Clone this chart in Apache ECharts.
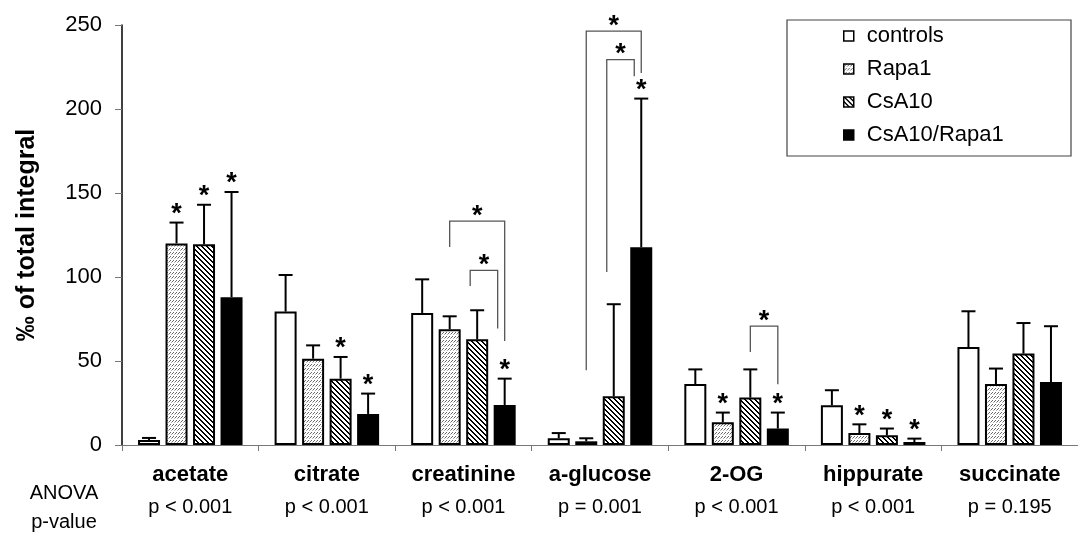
<!DOCTYPE html>
<html>
<head>
<meta charset="utf-8">
<script src="https://cdn.jsdelivr.net/npm/echarts@6/dist/echarts.min.js"></script>
<style>
html,body{margin:0;padding:0;background:#fff;}
#chart{width:1078px;height:540px;}
</style>
</head>
<body>
<div id="chart"></div>
<script>
// ---- data ----
const categories = ['acetate', 'citrate', 'creatinine', 'a-glucose', '2-OG', 'hippurate', 'succinate'];
const pValues = ['p < 0.001', 'p < 0.001', 'p < 0.001', 'p = 0.001', 'p < 0.001', 'p < 0.001', 'p = 0.195'];
const groups = ['controls', 'Rapa1', 'CsA10', 'CsA10/Rapa1'];

const controlsMean = [3, 79.4, 78.6, 4, 36.3, 23.6, 58.3];
const controlsErr  = [1.2, 21.8, 20, 3.1, 8.7, 9, 21.3];
const rapaMean     = [120, 51.4, 68.9, 2.2, 13.5, 7.1, 36.3];
const rapaErr      = [12.4, 7.9, 7.7, 1.8, 5.8, 5.2, 9.2];
const csaMean      = [119.5, 39.5, 62.9, 29, 28.2, 5.8, 54.4];
const csaErr       = [23.5, 12.9, 17.3, 54.8, 16.8, 4, 18.2];
const comboMean    = [88, 18.5, 23.8, 117.7, 9.8, 1.8, 37.5];
const comboErr     = [62.6, 12.1, 15.7, 88.5, 9.5, 2, 33.2];

// significance vs controls (1 = asterisk)
const controlsSig = [0, 0, 0, 0, 0, 0, 0];
const rapaSig     = [1, 0, 0, 0, 1, 1, 0];
const csaSig      = [1, 1, 0, 0, 0, 1, 0];
const comboSig    = [1, 1, 1, 1, 1, 1, 0];

// brackets: [category, fromGroup, toGroup, leftLegBottom, top, rightLegBottom, nestLevel]
const brackets = [
  [2, 1, 3, 117.9, 133.3, 61.9, 0],
  [2, 2, 3, 94.6, 104, 69.3, 1],
  [3, 1, 3, 44.5, 246.4, 221.4, 0],
  [3, 2, 3, 103, 229.4, 219.5, 1],
  [4, 2, 3, 55.4, 70.7, 36.1, 0]
];

const yTicks = [0, 50, 100, 150, 200, 250];

// ---- patterns ----
function makeTile(w, h, draw) {
  const c = document.createElement('canvas');
  c.width = w; c.height = h;
  const ctx = c.getContext('2d');
  ctx.fillStyle = '#fff'; ctx.fillRect(0, 0, w, h);
  draw(ctx);
  return c;
}
const rapaTile = makeTile(3, 4, ctx => {
  ctx.fillStyle = '#6a6a6a';
  ctx.fillRect(2, 0, 1, 1);
  ctx.fillRect(1, 1, 1, 1);
  ctx.fillStyle = '#b0b0b0';
  ctx.fillRect(0, 2, 1, 1);
});
const csaTile = makeTile(5, 5, ctx => {
  ctx.fillStyle = '#000';
  for (let i = 0; i < 5; i++) {
    ctx.fillRect(i, i, 1, 1);
    ctx.fillRect((i + 1) % 5, i, 1, 1);
  }
});

const means = [controlsMean, rapaMean, csaMean, comboMean];
const errs = [controlsErr, rapaErr, csaErr, comboErr];
const sigs = [controlsSig, rapaSig, csaSig, comboSig];
const fills = ['#ffffff', { image: rapaTile, repeat: 'repeat' }, { image: csaTile, repeat: 'repeat' }, '#000000'];

const BAR_W = 22, BAR_STEP = 27.5;
const FONT = '"Liberation Sans", Arial, sans-serif';
const STAR_FONT = 'bold 27px ' + FONT;

const errData = [];
for (let s = 0; s < 4; s++) {
  for (let c = 0; c < categories.length; c++) {
    errData.push([c, means[s][c], means[s][c] + errs[s][c], s, sigs[s][c]]);
  }
}

const barSeries = groups.map((g, s) => ({
  name: g,
  type: 'bar',
  data: means[s],
  barWidth: BAR_W,
  barGap: '25%',
  itemStyle: { color: fills[s], borderColor: '#000', borderWidth: 2 },
  emphasis: { disabled: true },
  z: 2
}));

const errorSeries = {
  type: 'custom',
  data: errData,
  encode: { x: 0, y: [1, 2] },
  z: 3,
  silent: true,
  renderItem: function (params, api) {
    const c = api.value(0), v = api.value(1), hi = api.value(2), s = api.value(3), sig = api.value(4);
    const p0 = api.coord([c, v]);
    const p1 = api.coord([c, hi]);
    const x = p0[0] + (s - 1.5) * BAR_STEP;
    const children = [
      { type: 'line', shape: { x1: x, y1: p0[1], x2: x, y2: p1[1] }, style: { stroke: '#000', lineWidth: 2 } },
      { type: 'line', shape: { x1: x - 7, y1: p1[1], x2: x + 7, y2: p1[1] }, style: { stroke: '#000', lineWidth: 2 } }
    ];
    if (sig) {
      children.push({ type: 'text', x: x, y: p1[1] - 8,
        style: { text: '*', fill: '#000', font: STAR_FONT, align: 'center', verticalAlign: 'middle' } });
    }
    return { type: 'group', children: children };
  }
};

const bracketSeries = {
  type: 'custom',
  data: brackets,
  encode: { x: 0, y: 4 },
  z: 4,
  silent: true,
  renderItem: function (params, api) {
    const c = api.value(0), a = api.value(1), b = api.value(2);
    const lb = api.value(3), tp = api.value(4), rb = api.value(5), lvl = api.value(6);
    const cx = api.coord([c, 0])[0];
    const shift = lvl ? -7 : 0;
    const xl = cx + (a - 1.5) * BAR_STEP + shift;
    const xr = cx + (b - 1.5) * BAR_STEP + shift;
    const yl = api.coord([c, lb])[1], yt = api.coord([c, tp])[1], yr = api.coord([c, rb])[1];
    return { type: 'group', children: [
      { type: 'polyline', shape: { points: [[xl, yl], [xl, yt], [xr, yt], [xr, yr]] },
        style: { stroke: '#555', lineWidth: 1.3, fill: null } },
      { type: 'text', x: (xl + xr) / 2, y: yt - 5,
        style: { text: '*', fill: '#000', font: STAR_FONT, align: 'center', verticalAlign: 'middle' } }
    ] };
  }
};

const chart = echarts.init(document.getElementById('chart'), null, { renderer: 'canvas' });
chart.setOption({
  animation: false,
  backgroundColor: '#fff',
  textStyle: { fontFamily: FONT },
  grid: { left: 122, right: -8, top: 25, bottom: 95 },
  legend: {
    data: groups,
    orient: 'vertical',
    left: 838,
    top: 20,
    itemWidth: 10,
    itemHeight: 10,
    itemGap: 11,
    icon: 'rect',
    selectedMode: false,
    itemStyle: { borderWidth: 1.5, borderColor: '#000' },
    textStyle: { fontSize: 22, color: '#000', fontFamily: FONT, lineHeight: 22, padding: [0, 0, 0, 8] }
  },
  xAxis: {
    type: 'category',
    data: categories,
    axisLine: { lineStyle: { color: '#777', width: 1 } },
    axisTick: { show: true, alignWithLabel: false, length: 6, lineStyle: { color: '#777' } },
    axisLabel: {
      margin: 14,
      interval: 0,
      formatter: function (val, idx) { return '{n|' + val + '}\n{p|' + pValues[idx] + '}'; },
      rich: {
        n: { fontSize: 22, fontWeight: 'bold', color: '#000', lineHeight: 32, fontFamily: FONT },
        p: { fontSize: 20, color: '#000', lineHeight: 32, fontFamily: FONT }
      }
    }
  },
  yAxis: {
    type: 'value',
    min: yTicks[0],
    max: yTicks[yTicks.length - 1],
    interval: yTicks[1] - yTicks[0],
    name: '‰ of total integral',
    nameLocation: 'middle',
    nameRotate: 90,
    nameGap: 82,
    nameTextStyle: { fontSize: 25, fontWeight: 'bold', color: '#000', fontFamily: FONT },
    axisLine: { show: true, lineStyle: { color: '#000', width: 1.5 } },
    axisTick: { show: true, length: 7, lineStyle: { color: '#777' } },
    axisLabel: { margin: 20, fontSize: 22, color: '#000', fontFamily: FONT },
    splitLine: { show: false }
  },
  graphic: [
    { type: 'rect', shape: { x: 787, y: 20, width: 284, height: 136 }, style: { fill: 'none', stroke: '#444', lineWidth: 1.2 }, z: 10 },
    { type: 'text', x: 64, y: 493, style: { text: 'ANOVA', font: '20px ' + FONT, fill: '#000', align: 'center', verticalAlign: 'middle' } },
    { type: 'text', x: 64, y: 522, style: { text: 'p-value', font: '20px ' + FONT, fill: '#000', align: 'center', verticalAlign: 'middle' } }
  ],
  series: barSeries.concat([errorSeries, bracketSeries])
});
</script>
</body>
</html>
